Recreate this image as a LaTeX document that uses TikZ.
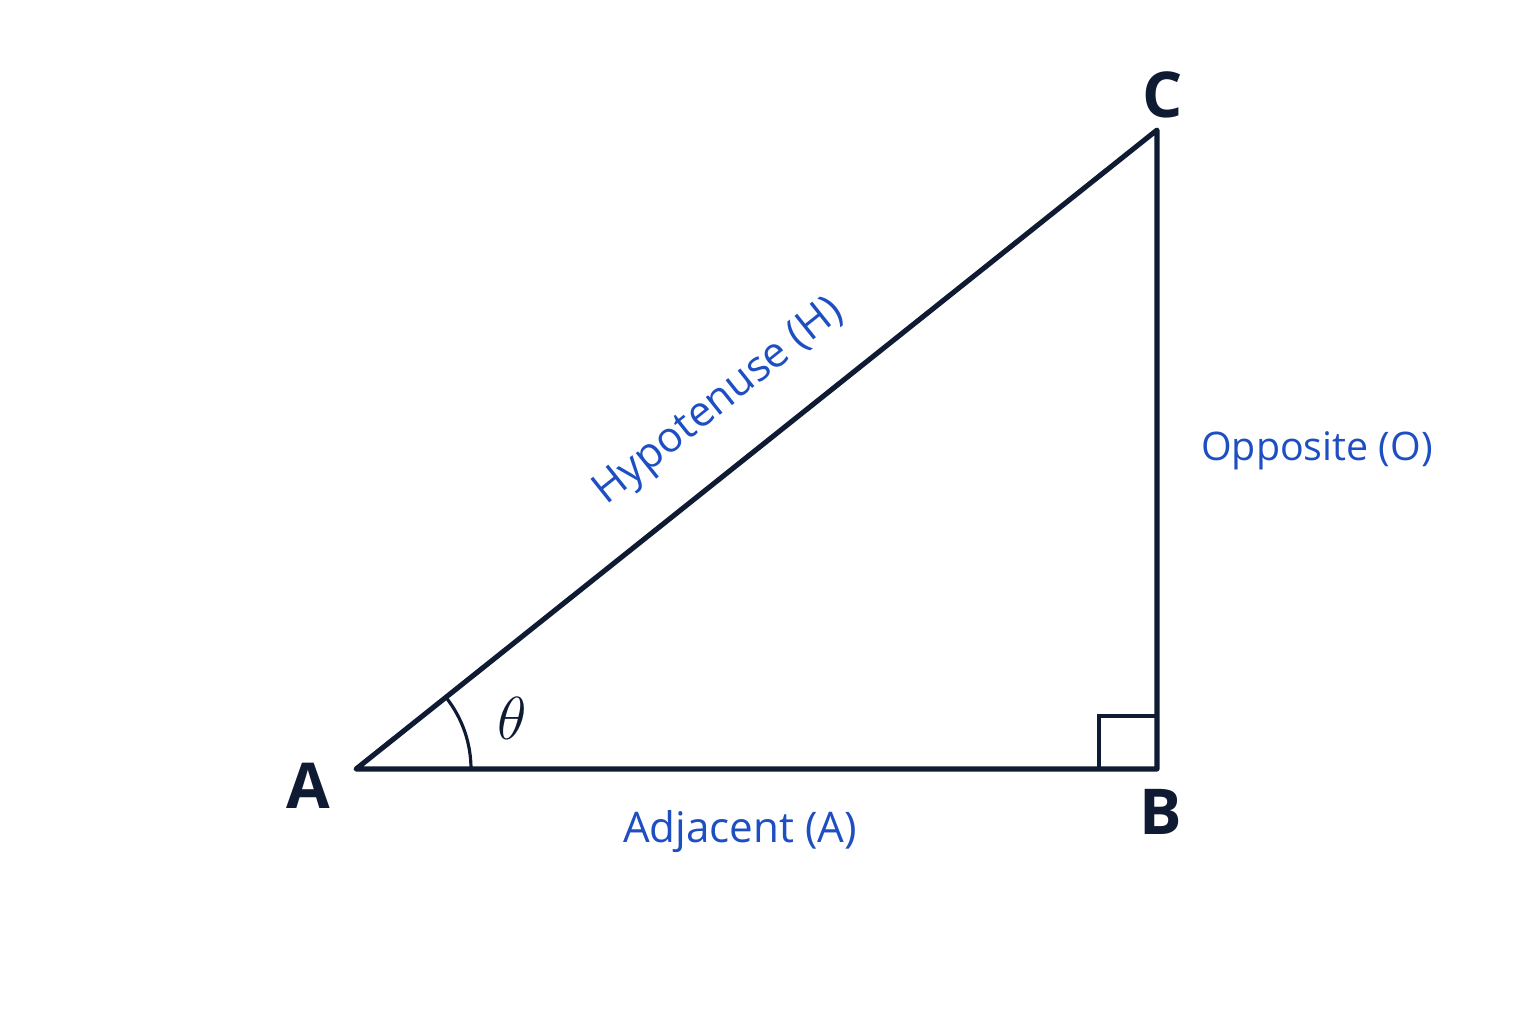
\documentclass[tikz,border=0pt]{standalone}
\usepackage{fontspec}
\setmainfont{Open Sans}
\usetikzlibrary{calc}
\definecolor{ink}{HTML}{0F1A33}
\definecolor{sidelabel}{HTML}{1D4EC2}
\tikzset{
  side/.style={draw=ink,line width=1.45pt,line join=round,line cap=round},
  vertex/.style={text=ink,font=\fontsize{18}{20}\selectfont\bfseries},
  sidetext/.style={text=sidelabel,font=\fontsize{12}{14}\selectfont}
}
\begin{document}
\begin{tikzpicture}
   \useasboundingbox (0,0) rectangle (15.36,-10.24);
   \coordinate (A) at (3.56,-7.69);
   \coordinate (B) at (11.57,-7.69);
   \coordinate (C) at (11.57,-1.30);

   \draw[side] (A) -- (B) -- (C) -- cycle;
   \draw[ink,line width=1.1pt] (10.99,-7.69) -- (10.99,-7.16) -- (11.57,-7.16);
   \draw[ink,line width=0.9pt] ($(A)+(1.15,0)$) arc(0:38.6:1.15);

   \node[vertex] (a) at (3.08,-7.86) {A};
   \node[vertex] (b) at (11.61,-8.12) {B};
   \node[vertex] (c) at (11.63,-0.95) {C};
   \node[text=ink,font=\fontsize{19}{21}\selectfont] (theta) at (5.12,-7.18) {$\theta$};

   \path (A) -- (C) node[sidetext,midway,sloped,above=0.27cm] (hyp) {Hypotenuse (H)};
   \node[sidetext,font=\fontsize{11.2}{13}\selectfont] (opp) at (13.17,-4.51) {Opposite (O)};
   \node[sidetext] (adj) at (7.40,-8.32) {Adjacent (A)};
 \end{tikzpicture}
\end{document}
